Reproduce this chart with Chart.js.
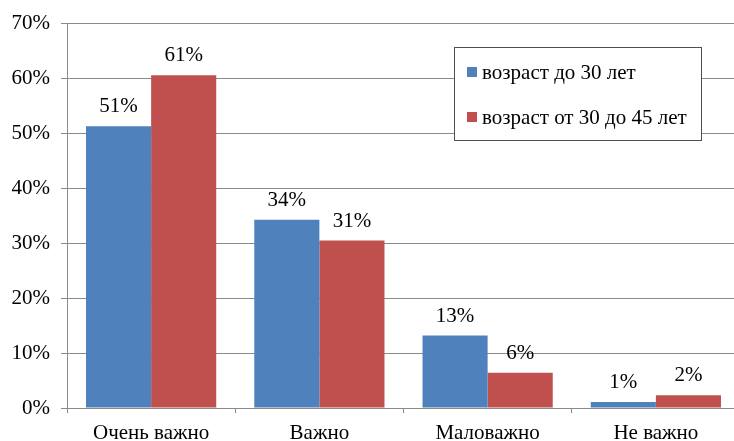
<!DOCTYPE html>
<html><head><meta charset="utf-8">
<script src="https://cdn.jsdelivr.net/npm/chart.js@4/dist/chart.umd.min.js"></script>
<style>html,body{margin:0;padding:0;overflow:hidden;background:#fff;width:734px;height:441px}canvas{display:block}</style>
</head><body>
<canvas id="c" width="745" height="450"></canvas>
<script>
const categories = ["Очень важно", "Важно", "Маловажно", "Не важно"];
const seriesNames = ["возраст до 30 лет", "возраст от 30 до 45 лет"];
const under30 = [51.3, 34.3, 13.2, 1.1];
const from30to45 = [60.6, 30.5, 6.4, 2.3];
const yTicks = [0, 10, 20, 30, 40, 50, 60, 70];
const colors = ["#4F81BD", "#C0504D"];

const FONT = "'Liberation Serif', 'Times New Roman', serif";
const gridColor = "#8a8a8a";

const labelsPlugin = {
  id: "barLabels",
  afterDatasetsDraw(chart) {
    const ctx = chart.ctx;
    ctx.save();
    ctx.font = "21px " + FONT;
    ctx.fillStyle = "#000";
    ctx.textAlign = "center";
    ctx.textBaseline = "alphabetic";
    chart.data.datasets.forEach((ds, i) => {
      const meta = chart.getDatasetMeta(i);
      meta.data.forEach((bar, j) => {
        ctx.fillText(Math.round(ds.data[j]) + "%", bar.x, bar.y - 14);
      });
    });
    ctx.restore();
  }
};

const legendPlugin = {
  id: "boxLegend",
  afterDraw(chart) {
    const ctx = chart.ctx;
    ctx.save();
    const x0 = 454.5, y0 = 47.5, w = 247, h = 93;
    ctx.fillStyle = "#fff";
    ctx.fillRect(x0, y0, w, h);
    ctx.strokeStyle = "#505050";
    ctx.lineWidth = 1;
    ctx.strokeRect(x0, y0, w, h);
    ctx.font = "21px " + FONT;
    ctx.textBaseline = "middle";
    ctx.textAlign = "left";
    const rows = [72, 117];
    chart.data.datasets.forEach((ds, i) => {
      ctx.fillStyle = ds.backgroundColor;
      ctx.fillRect(467, rows[i] - 5, 10, 10);
      ctx.fillStyle = "#000";
      ctx.fillText(ds.label, 482, rows[i] + 1);
    });
    ctx.restore();
  }
};

new Chart(document.getElementById("c"), {
  type: "bar",
  data: {
    labels: categories,
    datasets: [
      { label: seriesNames[0], data: under30, backgroundColor: colors[0] },
      { label: seriesNames[1], data: from30to45, backgroundColor: colors[1] }
    ]
  },
  options: {
    responsive: false,
    animation: false,
    devicePixelRatio: 1,
    layout: { padding: { top: 19, right: 5, left: 0, bottom: 0 } },
    datasets: { bar: { barPercentage: 1, categoryPercentage: 0.774 } },
    plugins: { legend: { display: false }, tooltip: { enabled: false } },
    scales: {
      x: {
        afterFit(s) { s.height = 42; },
        grid: { display: true, drawOnChartArea: false, drawTicks: true, tickLength: 5, offset: true, color: gridColor },
        border: { display: true, color: gridColor },
        ticks: { color: "#000", font: { family: FONT, size: 21 }, padding: 8, maxRotation: 0, autoSkip: false }
      },
      y: {
        min: 0, max: 70,
        afterFit(s) { s.width = 67; },
        afterBuildTicks(s) { s.ticks = yTicks.map(v => ({ value: v })); },
        grid: { color: gridColor, drawTicks: true, tickLength: 6 },
        border: { display: true, color: gridColor },
        ticks: { color: "#000", font: { family: FONT, size: 21 }, padding: 11, callback: v => v + "%" }
      }
    }
  },
  plugins: [labelsPlugin, legendPlugin]
});
</script>
</body></html>
